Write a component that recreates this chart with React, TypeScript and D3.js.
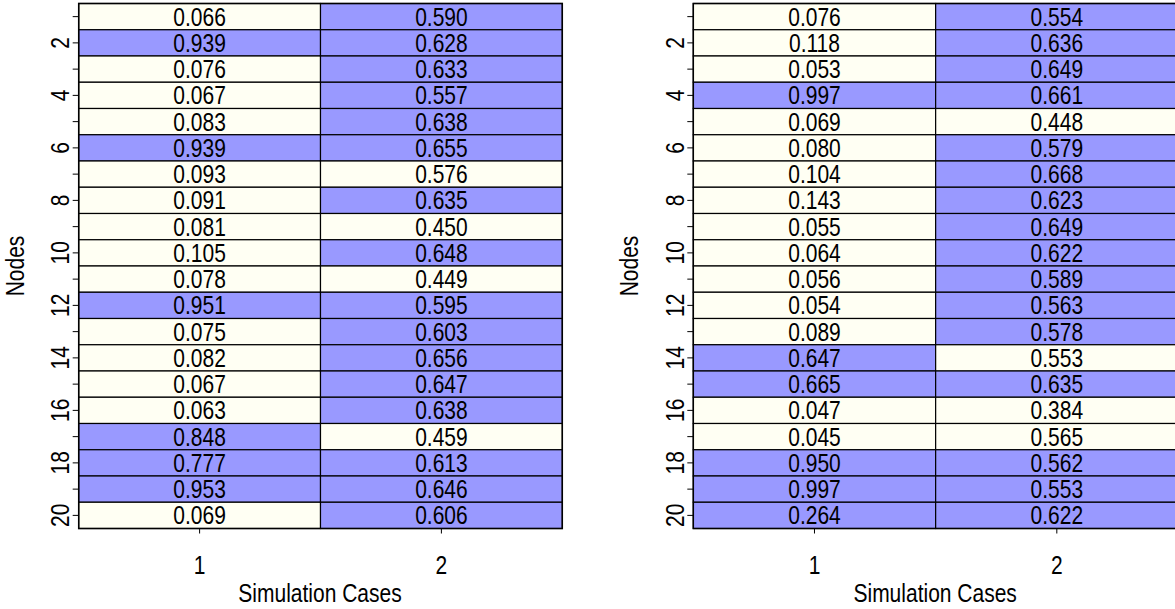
import * as d3 from 'd3';

// Node ids and simulation cases
const NODES = d3.range(1, 21);
const CASES = [1, 2];
const NODE_TICK_LABELS = [2, 4, 6, 8, 10, 12, 14, 16, 18, 20];

// Left panel values (per case) and highlight flags (1 = blue)
const LEFT_CASE1 = [0.066, 0.939, 0.076, 0.067, 0.083, 0.939, 0.093, 0.091, 0.081, 0.105,
  0.078, 0.951, 0.075, 0.082, 0.067, 0.063, 0.848, 0.777, 0.953, 0.069];
const LEFT_CASE1_FLAG = [0, 1, 0, 0, 0, 1, 0, 0, 0, 0, 0, 1, 0, 0, 0, 0, 1, 1, 1, 0];
const LEFT_CASE2 = [0.590, 0.628, 0.633, 0.557, 0.638, 0.655, 0.576, 0.635, 0.450, 0.648,
  0.449, 0.595, 0.603, 0.656, 0.647, 0.638, 0.459, 0.613, 0.646, 0.606];
const LEFT_CASE2_FLAG = [1, 1, 1, 1, 1, 1, 0, 1, 0, 1, 0, 1, 1, 1, 1, 1, 0, 1, 1, 1];

// Right panel
const RIGHT_CASE1 = [0.076, 0.118, 0.053, 0.997, 0.069, 0.080, 0.104, 0.143, 0.055, 0.064,
  0.056, 0.054, 0.089, 0.647, 0.665, 0.047, 0.045, 0.950, 0.997, 0.264];
const RIGHT_CASE1_FLAG = [0, 0, 0, 1, 0, 0, 0, 0, 0, 0, 0, 0, 0, 1, 1, 0, 0, 1, 1, 1];
const RIGHT_CASE2 = [0.554, 0.636, 0.649, 0.661, 0.448, 0.579, 0.668, 0.623, 0.649, 0.622,
  0.589, 0.563, 0.578, 0.553, 0.635, 0.384, 0.565, 0.562, 0.553, 0.622];
const RIGHT_CASE2_FLAG = [1, 1, 1, 1, 0, 1, 1, 1, 1, 1, 1, 1, 1, 0, 1, 0, 0, 1, 1, 1];

const W = 1175;
const H = 609;
const TOP = 3.5;
const BOTTOM = 528.5;
const FONT = 'Liberation Sans, Arial, Helvetica, sans-serif';
const FS = 21;
const SY = 1.2; // glyphs in the source are tall / narrow
const BLUE = '#9999ff';
const CREAM = '#fffff3';

type PanelProps = {
  x0: number;
  x1: number;
  values: number[][];
  flags: number[][];
};

function Panel({ x0, x1, values, flags }: PanelProps) {
  const x = d3.scaleBand<number>().domain(CASES).range([x0, x1]).padding(0);
  const y = d3.scaleBand<number>().domain(NODES).range([TOP, BOTTOM]).padding(0);
  const bw = x.bandwidth();
  const bh = y.bandwidth();
  const capOff = (0.716 * FS * SY) / 2;

  return (
    <g>
      {CASES.map((c, ci) =>
        NODES.map((n, ni) => {
          const cx = x(c)!;
          const cy = y(n)!;
          return (
            <g key={`${c}-${n}`}>
              <rect x={cx} y={cy} width={bw} height={bh}
                fill={flags[ci][ni] ? BLUE : CREAM} stroke="#000" strokeWidth={1.2} />
              <text transform={`translate(${cx + bw / 2},${cy + bh / 2 + capOff}) scale(1,${SY})`}
                textAnchor="middle" fontFamily={FONT} fontSize={FS} fill="#000">
                {d3.format('.3f')(values[ci][ni])}
              </text>
            </g>
          );
        })
      )}
      <rect x={x0} y={TOP} width={x1 - x0} height={BOTTOM - TOP} fill="none" stroke="#000" strokeWidth={1.5} />

      {/* y axis */}
      {NODES.map((n) => {
        const cy = y(n)! + bh / 2;
        return <line key={`yt${n}`} x1={x0 - 6} x2={x0} y1={cy} y2={cy} stroke="#000" strokeWidth={1} />;
      })}
      {NODE_TICK_LABELS.map((n) => {
        const cy = y(n)! + bh / 2;
        return (
          <text key={`yl${n}`} transform={`translate(${x0 - 9.5},${cy}) rotate(-90) scale(1,${SY})`}
            textAnchor="middle" fontFamily={FONT} fontSize={FS} fill="#000">{n}</text>
        );
      })}
      <text transform={`translate(${x0 - 55},${(TOP + BOTTOM) / 2}) rotate(-90) scale(1,${SY})`}
        textAnchor="middle" fontFamily={FONT} fontSize={FS} fill="#000">Nodes</text>

      {/* x axis */}
      {CASES.map((c) => {
        const cx = x(c)! + bw / 2;
        return (
          <g key={`xt${c}`}>
            <line x1={cx} x2={cx} y1={BOTTOM} y2={BOTTOM + 5} stroke="#000" strokeWidth={1} />
            <text transform={`translate(${cx},${BOTTOM + 45.5}) scale(1,${SY})`}
              textAnchor="middle" fontFamily={FONT} fontSize={FS} fill="#000">{c}</text>
          </g>
        );
      })}
      <text transform={`translate(${(x0 + x1) / 2 - 0.5},${601.5}) scale(1,${SY})`}
        textAnchor="middle" fontFamily={FONT} fontSize={FS} fill="#000">Simulation Cases</text>
    </g>
  );
}

export default function App() {
  return (
    <svg width={W} height={H} style={{ position: 'absolute', left: 0, top: 0, background: '#fff' }}>
      <rect width={W} height={H} fill="#fff" />
      <Panel x0={78.7} x1={562.3} values={[LEFT_CASE1, LEFT_CASE2]} flags={[LEFT_CASE1_FLAG, LEFT_CASE2_FLAG]} />
      <Panel x0={693.3} x1={1178} values={[RIGHT_CASE1, RIGHT_CASE2]} flags={[RIGHT_CASE1_FLAG, RIGHT_CASE2_FLAG]} />
    </svg>
  );
}
